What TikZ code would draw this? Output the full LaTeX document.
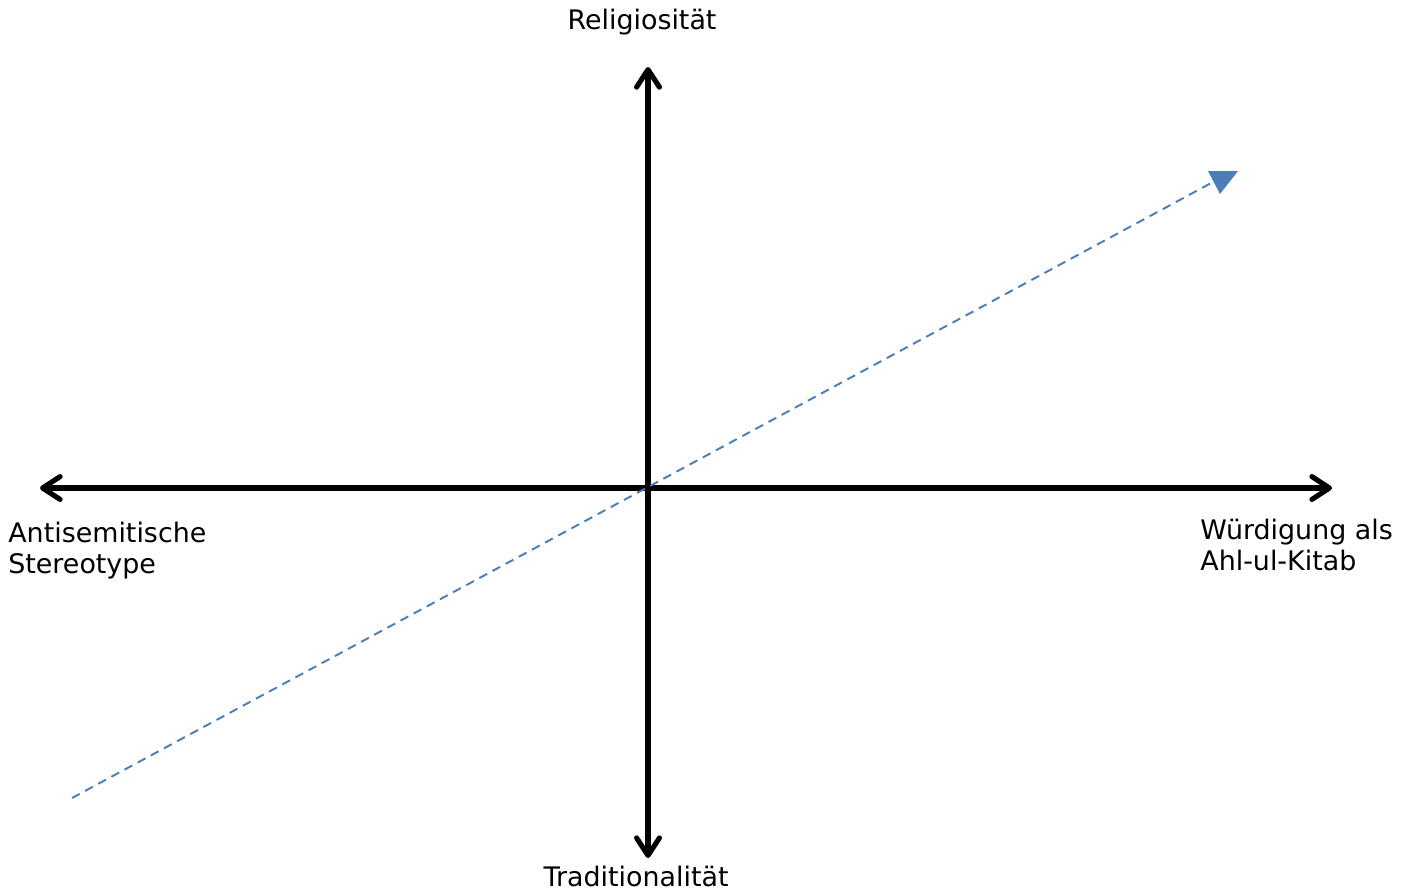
\documentclass[tikz,border=0pt]{standalone}
\usepackage{fontspec}
\setmainfont{DejaVu Sans}
\usetikzlibrary{arrows.meta}
\definecolor{dashblue}{RGB}{74,126,187}
\tikzset{
  axis/.style={line width=2.9pt, {Straight Barb[length=10pt,width=13pt,round]}-{Straight Barb[length=10pt,width=13pt,round]}},
  label/.style={font=\fontsize{15.3}{17.6}\selectfont, inner sep=0pt}
}
\begin{document}
\begin{tikzpicture}[x=0.02cm,y=-0.02cm]
  \useasboundingbox (0,0) rectangle (1412,890);
  % Axis ends
  \coordinate (top) at (648,67);
  \coordinate (bottom) at (648,858);
  \coordinate (left) at (40,488);
  \coordinate (right) at (1332,488);
  % Axes
  \draw[axis] (bottom) -- (top);
  \draw[axis] (left) -- (right);

  % Dashed trend line
  \coordinate (start) at (72,798);
  \coordinate (end) at (1213,182);
  \draw[dashblue, line width=1.1pt, dash pattern=on 5pt off 3.5pt] (start) -- (end);
  \fill[dashblue] (1208,171) -- (1238,171) -- (1220,194) -- cycle; % Head

  % Labels
  \node[label] (relig) at (642,22) {Religiosität};
  \node[label] (trad) at (636,876) {Traditionalität};
  \node[label, anchor=west, align=left] (anti) at (8,551) {Antisemitische\\Stereotype};
  \node[label, anchor=west, align=left] (wuerd) at (1200,545) {Würdigung als\\Ahl-ul-Kitab};
\end{tikzpicture}
\end{document}
